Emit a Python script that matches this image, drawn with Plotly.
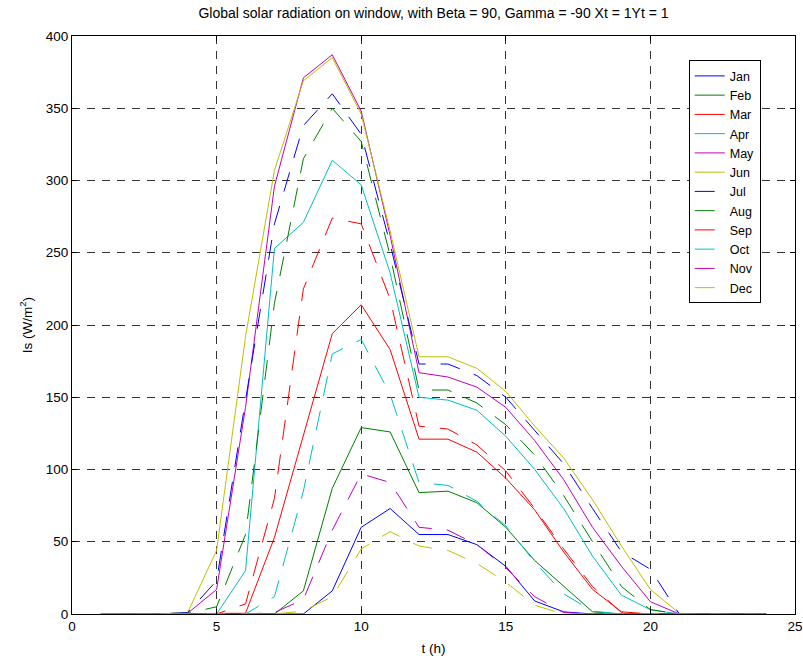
import plotly.graph_objects as go

hours = list(range(1, 25))
months = ["Jan", "Feb", "Mar", "Apr", "May", "Jun",
          "Jul", "Aug", "Sep", "Oct", "Nov", "Dec"]

jan = [0, 0, 0, 0, 0, 0, 0, 0, 16, 60, 73, 55, 55, 48, 33, 9, 1.5, 0, 0, 0, 0, 0, 0, 0]
feb = [0, 0, 0, 0, 0, 0, 0, 16, 87, 129, 126, 84, 85, 77, 60, 37, 19, 1.5, 0, 0, 0, 0, 0, 0]
mar = [0, 0, 0, 0, 0, 0.5, 53, 124, 194, 214, 183, 121, 121, 112, 94, 72, 43, 17, 1.5, 0, 0, 0, 0, 0]
apr = [0, 0, 0, 0, 0, 30, 253, 271, 314, 297, 236, 150, 148, 141, 123, 100, 73, 40, 13, 3, 0, 0, 0, 0]
may = [0, 0, 0, 0.5, 17, 143, 296, 371, 387, 348, 262, 167, 164, 157, 143, 120, 93, 60, 33, 8.5, 0, 0, 0, 0]
jun = [0, 0, 0, 1, 44, 192, 307, 369, 385, 346, 265, 178, 178, 170, 154, 130, 108, 79, 47, 17, 0.5, 0, 0, 0]
jul = [0, 0, 0, 1, 23, 148, 270, 338, 360, 332, 256, 173, 173, 165, 150, 127, 104, 73, 43, 31, 0, 0, 0, 0]
aug = [0, 0, 0, 0.5, 5, 55, 215, 315, 350, 327, 248, 155, 155, 146, 131, 110, 82, 50, 19, 3, 0, 0, 0, 0]
sep = [0, 0, 0, 0, 0, 7, 80, 225, 274, 270, 218, 130, 128, 117, 99, 73, 45, 19, 1, 0, 0, 0, 0, 0]
oct_ = [0, 0, 0, 0, 0, 0, 12, 85, 180, 190, 152, 91, 89, 78, 61, 36, 14, 2, 0, 0, 0, 0, 0, 0]
nov = [0, 0, 0, 0, 0, 0, 1, 10, 58, 97, 91, 60, 58, 48, 32, 12, 1, 0, 0, 0, 0, 0, 0, 0]
dec = [0, 0, 0, 0, 0, 0, 0, 2, 12, 45, 57, 47, 44, 35, 22, 6, 0, 0, 0, 0, 0, 0, 0, 0]

series = [jan, feb, mar, apr, may, jun, jul, aug, sep, oct_, nov, dec]
colors = ["#0000FF", "#008000", "#FF0000", "#00BFBF", "#BF00BF", "#BFBF00"] * 2
dashes = ["solid"] * 6 + ["20px,15px"] * 6

x_ticks = [0, 5, 10, 15, 20, 25]
y_ticks = [0, 50, 100, 150, 200, 250, 300, 350, 400]

FONT = "Liberation Sans, Arial, sans-serif"

fig = go.Figure()
for name, vals, col, dsh in zip(months, series, colors, dashes):
    fig.add_trace(go.Scatter(
        x=hours, y=vals, mode="lines", name=name,
        line=dict(color=col, width=1, dash=dsh),
    ))

axis_common = dict(
    showline=True, linecolor="black", linewidth=1, mirror="allticks",
    ticks="inside", ticklen=5, tickcolor="black",
    showgrid=True, gridcolor="#333333", gridwidth=1, griddash="8px,7px",
    zeroline=False, automargin=False,
    tickfont=dict(family=FONT, size=13.5, color="black"),
)

fig.update_xaxes(range=[0, 25], tickvals=x_ticks, ticktext=[str(v) for v in x_ticks],
                 title=dict(text="t (h)", font=dict(family=FONT, size=13.5, color="black"), standoff=10),
                 **axis_common)
fig.update_yaxes(range=[0, 400], tickvals=y_ticks, ticktext=[str(v) for v in y_ticks],
                 title=dict(text="Is (W/m<sup>2</sup>)", font=dict(family=FONT, size=13.5, color="black"), standoff=10),
                 **axis_common)

fig.update_layout(
    width=803, height=661,
    margin=dict(l=72, r=8, t=36, b=47, autoexpand=False),
    paper_bgcolor="white", plot_bgcolor="white",
    title=dict(text="Global solar radiation on window, with Beta = 90, Gamma = -90 Xt = 1Yt = 1",
               xref="paper", x=0.5, xanchor="center", y=0.988, yanchor="top",
               pad=dict(t=0, b=0, l=0, r=0),
               font=dict(family=FONT, size=14, color="black")),
    legend=dict(x=0.853, y=0.958, xanchor="left", yanchor="top",
                bgcolor="white", bordercolor="black", borderwidth=1,
                font=dict(family=FONT, size=12.5, color="black"),
                tracegroupgap=0),
    showlegend=True,
)

# remove the default page margin so the figure fills the 803x661 window exactly
fig.write_html("out.html",
               config={"displayModeBar": False},
               post_script="document.body.style.margin='0';document.body.style.overflow='hidden';")
